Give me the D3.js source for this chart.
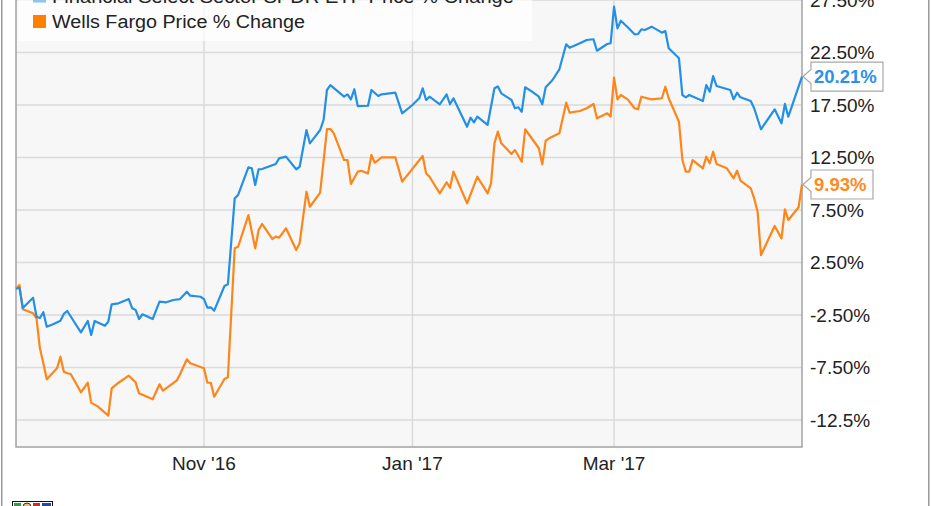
<!DOCTYPE html>
<html>
<head>
<meta charset="utf-8">
<script src="https://cdn.jsdelivr.net/npm/d3@7"></script>
<style>
  html, body { margin: 0; padding: 0; background: #ffffff; }
  svg { display: block; }
  text { font-family: "Liberation Sans", Arial, sans-serif; }
</style>
</head>
<body>
<svg id="chart" width="931" height="506"></svg>
<script>
// ---------------- DATA ----------------
const seriesNames = ["Financial Select Sector SPDR ETF Price % Change", "Wells Fargo Price % Change"];

const xlfDates = ["2016-09-07","2016-09-08","2016-09-09","2016-09-12","2016-09-13","2016-09-14","2016-09-15","2016-09-16","2016-09-18","2016-09-20","2016-09-21","2016-09-22","2016-09-24","2016-09-26","2016-09-28","2016-09-29","2016-09-30","2016-10-03","2016-10-04","2016-10-05","2016-10-07","2016-10-10","2016-10-11","2016-10-12","2016-10-13","2016-10-14","2016-10-17","2016-10-19","2016-10-21","2016-10-23","2016-10-25","2016-10-27","2016-10-28","2016-10-31","2016-11-01","2016-11-02","2016-11-03","2016-11-04","2016-11-07","2016-11-08","2016-11-10","2016-11-11","2016-11-14","2016-11-15","2016-11-16","2016-11-17","2016-11-18","2016-11-22","2016-11-23","2016-11-25","2016-11-28","2016-11-29","2016-12-01","2016-12-02","2016-12-05","2016-12-06","2016-12-07","2016-12-08","2016-12-12","2016-12-13","2016-12-14","2016-12-15","2016-12-16","2016-12-19","2016-12-20","2016-12-22","2016-12-23","2016-12-27","2016-12-29","2017-01-01","2017-01-03","2017-01-04","2017-01-05","2017-01-06","2017-01-09","2017-01-11","2017-01-12","2017-01-13","2017-01-17","2017-01-18","2017-01-19","2017-01-20","2017-01-23","2017-01-25","2017-01-26","2017-01-27","2017-01-30","2017-01-31","2017-02-01","2017-02-02","2017-02-03","2017-02-05","2017-02-07","2017-02-08","2017-02-09","2017-02-11","2017-02-13","2017-02-15","2017-02-16","2017-02-19","2017-02-21","2017-02-23","2017-02-24","2017-02-27","2017-02-28","2017-03-01","2017-03-02","2017-03-03","2017-03-05","2017-03-07","2017-03-08","2017-03-09","2017-03-10","2017-03-12","2017-03-15","2017-03-16","2017-03-17","2017-03-20","2017-03-21","2017-03-22","2017-03-23","2017-03-27","2017-03-28","2017-03-29","2017-03-30","2017-03-31","2017-04-04","2017-04-05","2017-04-06","2017-04-07","2017-04-10","2017-04-11","2017-04-13","2017-04-17","2017-04-19","2017-04-20","2017-04-21","2017-04-25"];
const xlfValues = [0,0.1,-1.83,-0.85,-2.66,-2.79,-2.24,-3.61,-3.36,-3.04,-2.4,-2.12,-3.14,-4.15,-3.07,-4.4,-3.07,-3.52,-3.14,-1.48,-1.39,-0.98,-1.86,-2.02,-2.88,-2.43,-2.88,-1.23,-1.29,-1.07,-0.98,-0.28,-0.66,-0.76,-0.98,-1.8,-1.77,-2.09,0.26,0.42,8.61,8.93,11.57,11.47,9.88,11.38,11.4,11.88,12.42,12.58,11.38,11.62,15.12,13.85,15.12,16.07,18.93,19.4,18.29,18.52,18.04,19.0,17.4,17.43,18.93,18.36,18.52,18.67,16.71,17.5,18.14,19.09,17.98,18.29,17.57,18.52,17.57,18.14,15.43,16.29,15.85,16.39,15.6,19.09,19.26,18.61,17.98,17.19,17.28,16.86,19.19,18.77,18.29,17.57,19.19,19.88,20.9,23.28,22.96,23.38,23.69,23.76,22.67,23.31,23.38,26.86,24.8,25.53,24.9,24.23,24.26,24.71,24.64,24.96,24.39,24.55,22.9,21.95,18.45,18.23,18.45,17.88,19.4,18.77,20.26,19.31,18.93,18.04,18.67,18.23,17.88,17.19,15.19,17.09,15.76,17.6,16.39,20.21];

const wfcDates = ["2016-09-07","2016-09-08","2016-09-09","2016-09-12","2016-09-13","2016-09-14","2016-09-15","2016-09-16","2016-09-19","2016-09-20","2016-09-21","2016-09-22","2016-09-23","2016-09-26","2016-09-28","2016-09-29","2016-10-01","2016-10-04","2016-10-05","2016-10-07","2016-10-10","2016-10-12","2016-10-13","2016-10-17","2016-10-19","2016-10-20","2016-10-24","2016-10-25","2016-10-27","2016-10-28","2016-11-01","2016-11-02","2016-11-03","2016-11-04","2016-11-07","2016-11-08","2016-11-10","2016-11-11","2016-11-14","2016-11-16","2016-11-17","2016-11-18","2016-11-21","2016-11-22","2016-11-23","2016-11-25","2016-11-28","2016-11-29","2016-12-01","2016-12-02","2016-12-05","2016-12-07","2016-12-08","2016-12-09","2016-12-12","2016-12-13","2016-12-14","2016-12-16","2016-12-17","2016-12-19","2016-12-20","2016-12-21","2016-12-23","2016-12-27","2016-12-29","2017-01-04","2017-01-05","2017-01-06","2017-01-09","2017-01-11","2017-01-12","2017-01-13","2017-01-17","2017-01-20","2017-01-23","2017-01-24","2017-01-25","2017-01-26","2017-01-27","2017-01-30","2017-01-31","2017-02-02","2017-02-03","2017-02-07","2017-02-08","2017-02-09","2017-02-10","2017-02-13","2017-02-15","2017-02-16","2017-02-19","2017-02-21","2017-02-23","2017-02-24","2017-02-27","2017-02-28","2017-03-01","2017-03-02","2017-03-03","2017-03-05","2017-03-07","2017-03-08","2017-03-09","2017-03-12","2017-03-15","2017-03-16","2017-03-17","2017-03-20","2017-03-21","2017-03-22","2017-03-23","2017-03-24","2017-03-27","2017-03-28","2017-03-29","2017-03-30","2017-03-31","2017-04-03","2017-04-05","2017-04-06","2017-04-07","2017-04-10","2017-04-11","2017-04-12","2017-04-13","2017-04-17","2017-04-19","2017-04-20","2017-04-21","2017-04-24","2017-04-25"];
const wfcValues = [0,0.36,-1.96,-2.34,-2.81,-5.67,-7.1,-8.62,-7.58,-6.47,-7.9,-8.05,-8.12,-9.86,-8.95,-10.85,-11.23,-12.09,-9.48,-8.95,-8.28,-8.91,-9.96,-10.53,-9.1,-9.71,-8.76,-8.15,-6.72,-7.1,-7.58,-8.95,-8.95,-10.28,-8.6,-8.43,3.85,4.0,7.02,3.85,5.6,6.17,4.74,4.96,4.86,5.76,3.69,4.33,9.24,7.81,9.15,15.21,15.21,14.8,12.26,12.26,9.98,11.15,11.24,10.99,12.74,12.0,12.52,12.52,10.2,12.64,11.0,10.67,9.09,10.14,9.62,11.15,8.14,10.67,9.09,10.04,13.85,14.98,13.85,12.83,13.21,12.1,15.19,13.38,11.85,14.1,14.33,14.8,17.72,16.77,16.93,17.19,17.6,16.23,16.71,16.39,20.1,18.04,18.45,18.04,17.19,17.09,18.29,18.04,18.14,19.24,18.14,15.91,12.26,11.15,11.15,12.26,11.47,12.58,11.95,13.05,11.88,11.47,10.52,11.24,10.29,9.57,8.61,7.34,3.21,5.98,4.8,7.57,6.55,7.76,9.93];

const yTickValues = [-12.5, -7.5, -2.5, 2.5, 7.5, 12.5, 17.5, 22.5, 27.5];
const yTickLabels = ["-12.5%", "-7.50%", "-2.50%", "2.50%", "7.50%", "12.50%", "17.50%", "22.50%", "27.50%"];
const xTickDates = ["2016-11-01", "2017-01-01", "2017-03-01"];
const xTickLabels = ["Nov '16", "Jan '17", "Mar '17"];

// ---------------- STYLE ----------------
const BLUE = "#2390e6", ORANGE = "#ff8519";
const parse = d3.timeParse("%Y-%m-%d");

const svg = d3.select("#chart");
const plot = { left: 16, right: 802, top: -12, bottom: 447 };

const x = d3.scaleTime()
  .domain([parse("2016-09-07"), parse("2017-04-25")])
  .range([plot.left, plot.right]);
const y = d3.scaleLinear().domain([-12.5, 27.5]).range([420, 0]);

// outer frame
svg.append("rect").attr("x", 1.75).attr("y", -10).attr("width", 927).attr("height", 530)
  .attr("fill", "none").attr("stroke", "#9a9a9a").attr("stroke-width", 1.5);

// plot background
svg.append("rect").attr("x", plot.left).attr("y", plot.top)
  .attr("width", plot.right - plot.left).attr("height", plot.bottom - plot.top)
  .attr("fill", "#f7f7f7");

// horizontal grid
svg.append("g").selectAll("line").data(yTickValues).join("line")
  .attr("x1", plot.left).attr("x2", plot.right)
  .attr("y1", d => y(d)).attr("y2", d => y(d))
  .attr("stroke", "#dadada").attr("stroke-width", 1.5);

// vertical grid
svg.append("g").selectAll("line").data(xTickDates).join("line")
  .attr("x1", d => x(parse(d))).attr("x2", d => x(parse(d)))
  .attr("y1", plot.top).attr("y2", plot.bottom)
  .attr("stroke", "#dadada").attr("stroke-width", 1.5);

// plot border
svg.append("rect").attr("x", plot.left).attr("y", plot.top)
  .attr("width", plot.right - plot.left).attr("height", plot.bottom - plot.top)
  .attr("fill", "none").attr("stroke", "#a3a3a3").attr("stroke-width", 1.5);

// lines
const line = d3.line().x(d => x(d[0])).y(d => y(d[1]));
const xlfData = xlfDates.map((d, i) => [parse(d), xlfValues[i]]);
const wfcData = wfcDates.map((d, i) => [parse(d), wfcValues[i]]);

svg.append("path").datum(wfcData).attr("d", line)
  .attr("fill", "none").attr("stroke", ORANGE).attr("stroke-width", 2.2).attr("stroke-linejoin", "round");
svg.append("path").datum(xlfData).attr("d", line)
  .attr("fill", "none").attr("stroke", BLUE).attr("stroke-width", 2.2).attr("stroke-linejoin", "round");

// y tick labels (right side)
svg.append("g").selectAll("text").data(yTickValues).join("text")
  .attr("x", 810).attr("y", d => y(d)).attr("dy", "0.36em")
  .attr("font-size", 19).attr("fill", "#222")
  .text((d, i) => yTickLabels[i]);

// x tick labels
svg.append("g").selectAll("text").data(xTickDates).join("text")
  .attr("x", d => x(parse(d))).attr("y", 470)
  .attr("text-anchor", "middle").attr("font-size", 19).attr("fill", "#222")
  .text((d, i) => xTickLabels[i]);

// legend
const legend = svg.append("g");
legend.append("rect").attr("x", 18).attr("y", -15).attr("width", 514).attr("height", 56)
  .attr("fill", "#ffffff").attr("fill-opacity", 0.7);
const legendColors = [BLUE, ORANGE];
seriesNames.forEach((name, i) => {
  const by = 28 - (1 - i) * 25.5;
  legend.append("rect").attr("x", 33).attr("y", by - 13).attr("width", 13).attr("height", 13)
    .attr("fill", i === 0 ? "#8cc4f0" : "#ff7f00");
  legend.append("text").attr("x", 52).attr("y", by).attr("font-size", 18).attr("fill", "#222")
    .attr("textLength", i === 0 ? 462 : 253).attr("lengthAdjust", "spacingAndGlyphs")
    .text(name);
});

// end value callouts
const fmt = d3.format(".2f");
function callout(value, color, w) {
  const cy = y(value);
  const g = svg.append("g");
  const bx = 811, h = 29;
  g.append("path")
    .attr("d", `M${plot.right + 1},${cy} L${bx},${cy - 7} L${bx},${cy - h / 2} L${bx + w},${cy - h / 2} L${bx + w},${cy + h / 2} L${bx},${cy + h / 2} L${bx},${cy + 7} Z`)
    .attr("fill", "#ffffff").attr("stroke", "#a8a8a8").attr("stroke-width", 1.2);
  g.append("text").attr("x", bx + 3).attr("y", cy).attr("dy", "0.36em")
    .attr("font-size", 18.5).attr("font-weight", "bold").attr("fill", color)
    .text(fmt(value) + "%");
}
callout(xlfValues[xlfValues.length - 1], "#2a93e8", 72);
callout(wfcValues[wfcValues.length - 1], "#ff8a1f", 62);

// small logo at bottom-left
const logo = svg.append("g");
logo.append("rect").attr("x", 12.5).attr("y", 501.5).attr("width", 40).attr("height", 10)
  .attr("fill", "#ffffff").attr("stroke", "#111").attr("stroke-width", 1);
logo.append("rect").attr("x", 14).attr("y", 503).attr("width", 7).attr("height", 8).attr("fill", "#2e9e3e");
logo.append("circle").attr("cx", 27).attr("cy", 507).attr("r", 4).attr("fill", "#e8c070").attr("stroke", "#333");
logo.append("rect").attr("x", 33).attr("y", 503).attr("width", 7).attr("height", 8).attr("fill", "#d62828");
logo.append("rect").attr("x", 42).attr("y", 503).attr("width", 9).attr("height", 8).attr("fill", "#2446b0");
</script>
</body>
</html>
